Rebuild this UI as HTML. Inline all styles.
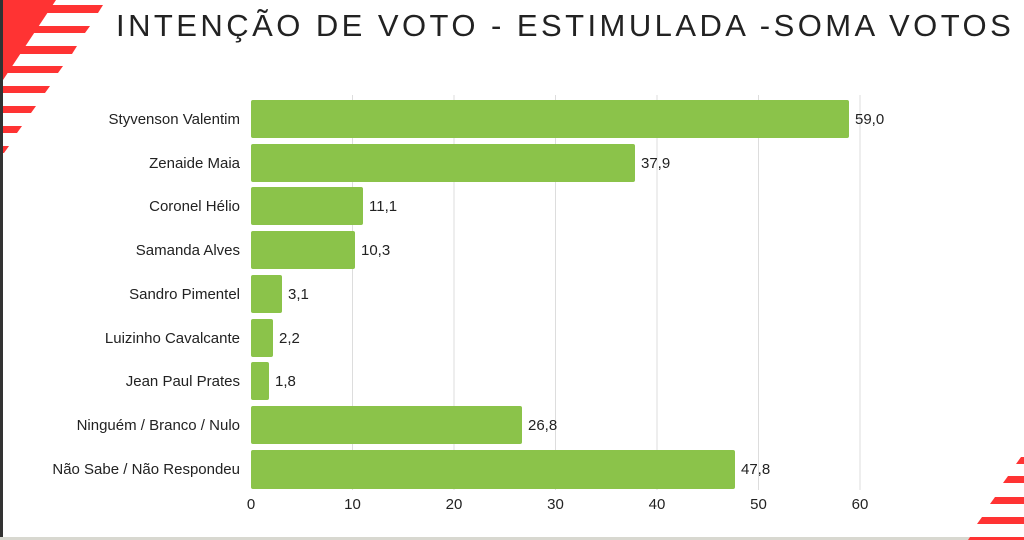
<!DOCTYPE html>
<html><head><meta charset="utf-8"><style>
body{margin:0;width:1024px;height:540px;overflow:hidden;background:#fff;font-family:"Liberation Sans",sans-serif}
</style></head><body>
<svg width="1024" height="540" xmlns="http://www.w3.org/2000/svg" style="position:absolute;left:0;top:0">
<rect x="0" y="0" width="3" height="540" fill="#333"/>
<rect x="0" y="537" width="1024" height="3" fill="#d8d8d0"/>
<g fill="#ff3333">
<polygon points="3,0 56,0 3,80"/>
<polygon points="3,5 103,5 98,13 3,13"/>
<polygon points="3,26 90,26 85,33 3,33"/>
<polygon points="3,46 77,46 72,54 3,54"/>
<polygon points="3,66 63,66 58,73 3,73"/>
<polygon points="3,86 50,86 45,93 3,93"/>
<polygon points="3,106 36,106 31,113 3,113"/>
<polygon points="3,126 22,126 17,133 3,133"/>
<polygon points="3,146 9,146 4,153 3,153"/>
<polygon points="1021,457 1024,457 1024,464 1016,464"/>
<polygon points="1008,476 1024,476 1024,483 1003,483"/>
<polygon points="995,497 1024,497 1024,504 990,504"/>
<polygon points="982,517 1024,517 1024,524 977,524"/>
<polygon points="970,537 1024,537 1024,540 968,540"/>
</g>
<text x="116" y="36" font-size="31" fill="#222" letter-spacing="3.45">INTENÇÃO DE VOTO - ESTIMULADA -SOMA VOTOS</text>
<g stroke="#ddd" stroke-width="1">
<line x1="352.5" y1="95" x2="352.5" y2="490"/><line x1="454" y1="95" x2="454" y2="490"/>
<line x1="555.5" y1="95" x2="555.5" y2="490"/><line x1="657" y1="95" x2="657" y2="490"/>
<line x1="758.5" y1="95" x2="758.5" y2="490"/><line x1="860" y1="95" x2="860" y2="490"/>
</g>
<g fill="#8bc34a">
<rect x="251" y="100" width="598" height="38" rx="2"/>
<rect x="251" y="144" width="384" height="38" rx="2"/>
<rect x="251" y="187" width="112" height="38" rx="2"/>
<rect x="251" y="231" width="104" height="38" rx="2"/>
<rect x="251" y="275" width="31" height="38" rx="2"/>
<rect x="251" y="319" width="22" height="38" rx="2"/>
<rect x="251" y="362" width="18" height="38" rx="2"/>
<rect x="251" y="406" width="271" height="38" rx="2"/>
<rect x="251" y="450" width="484" height="39" rx="2"/>
</g>
<g font-size="15" fill="#222" text-anchor="end">
<text x="240" y="124">Styvenson Valentim</text>
<text x="240" y="168">Zenaide Maia</text>
<text x="240" y="211">Coronel Hélio</text>
<text x="240" y="255">Samanda Alves</text>
<text x="240" y="299">Sandro Pimentel</text>
<text x="240" y="343">Luizinho Cavalcante</text>
<text x="240" y="386">Jean Paul Prates</text>
<text x="240" y="430">Ninguém / Branco / Nulo</text>
<text x="240" y="474">Não Sabe / Não Respondeu</text>
</g>
<g font-size="15" fill="#222">
<text x="855" y="124">59,0</text>
<text x="641" y="168">37,9</text>
<text x="369" y="211">11,1</text>
<text x="361" y="255">10,3</text>
<text x="288" y="299">3,1</text>
<text x="279" y="343">2,2</text>
<text x="275" y="386">1,8</text>
<text x="528" y="430">26,8</text>
<text x="741" y="474">47,8</text>
</g>
<g font-size="15" fill="#222" text-anchor="middle">
<text x="251" y="509">0</text><text x="352.5" y="509">10</text><text x="454" y="509">20</text>
<text x="555.5" y="509">30</text><text x="657" y="509">40</text><text x="758.5" y="509">50</text><text x="860" y="509">60</text>
</g>
</svg>
</body></html>
